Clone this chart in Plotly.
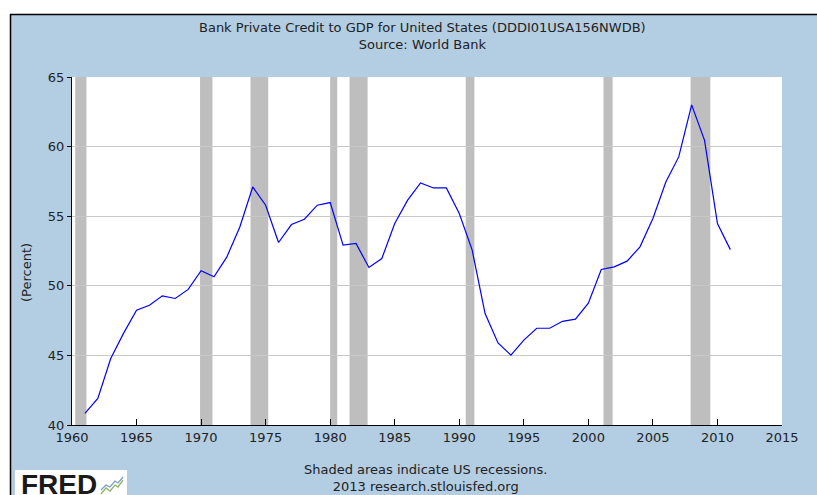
import plotly.graph_objects as go

# ---- data ----
years = list(range(1961, 2012))
credit_pct = [
    40.84, 41.91, 44.78, 46.6, 48.25, 48.6, 49.28, 49.09, 49.74, 51.08,
    50.65, 52.08, 54.23, 57.1, 55.79, 53.11, 54.4, 54.78, 55.79, 55.98,
    52.92, 53.04, 51.32, 51.96, 54.47, 56.15, 57.39, 57.03, 57.03, 55.19,
    52.56, 48.01, 45.9, 45.02, 46.1, 46.95, 46.95, 47.45, 47.6, 48.75,
    51.17, 51.36, 51.77, 52.8, 54.83, 57.46, 59.26, 63.0, 60.45, 54.47,
    52.6,
]
recession_start = [1960.25, 1969.92, 1973.83, 1980.0, 1981.5, 1990.5, 2001.17, 2007.92]
recession_end = [1961.12, 1970.88, 1975.2, 1980.55, 1982.9, 1991.17, 2001.88, 2009.45]
x_ticks = list(range(1960, 2016, 5))
y_ticks = [40, 45, 50, 55, 60, 65]

W, H = 817, 495
# plot area in page pixels
L, R, T, B = 72, 782, 77, 425
BLUE = "#B3CDE3"
FONT = "DejaVu Sans"
TXT = "#222222"


def px(xp):
    return (xp - L) / (R - L)


def py(yp):
    return (B - yp) / (B - T)


def path(points):
    return "M " + " L ".join("%f,%f" % (px(a), py(b)) for a, b in points)


fig = go.Figure()
fig.add_trace(go.Scatter(
    x=years, y=credit_pct, mode="lines",
    line=dict(color="#0000FF", width=1.2),
    showlegend=False, hoverinfo="x+y",
))

shapes = []
for s, e in zip(recession_start, recession_end):
    shapes.append(dict(type="rect", xref="x", yref="paper", x0=s, x1=e, y0=0, y1=1,
                       fillcolor="#BEBEBE", line=dict(width=0), layer="between"))

shapes += [
    # white strips outside the blue panel
    dict(type="rect", xref="paper", yref="paper", x0=px(-2), x1=px(W + 2), y0=py(14), y1=py(-2),
         fillcolor="white", line=dict(width=0), layer="above"),
    dict(type="rect", xref="paper", yref="paper", x0=px(-2), x1=px(10), y0=py(H + 2), y1=py(-2),
         fillcolor="white", line=dict(width=0), layer="above"),
    # black frame lines of the panel
    dict(type="line", xref="paper", yref="paper", x0=px(10), x1=px(W + 2), y0=py(14.5), y1=py(14.5),
         line=dict(color="black", width=1.5), layer="above"),
    dict(type="line", xref="paper", yref="paper", x0=px(10.5), x1=px(10.5), y0=py(14), y1=py(H + 2),
         line=dict(color="black", width=1.5), layer="above"),
    # FRED logo box
    dict(type="rect", xref="paper", yref="paper", x0=px(15), x1=px(127), y0=py(470), y1=py(H + 2),
         fillcolor="white", line=dict(width=0), layer="above"),
    # small logo chart icon
    dict(type="path", xref="paper", yref="paper",
         path=path([(101, 494), (106, 488), (110, 491), (115, 485), (118, 487), (123, 480)]),
         line=dict(color="#8DB86B", width=1.3), layer="above"),
    dict(type="path", xref="paper", yref="paper",
         path=path([(101, 490), (106, 485), (110, 487), (115, 481), (118, 483), (123, 477)]),
         line=dict(color="#7E9CC8", width=1.3), layer="above"),
]

annotations = [
    dict(text="Bank Private Credit to GDP for United States (DDDI01USA156NWDB)<br>Source: World Bank",
         xref="paper", yref="paper", x=px(422), y=py(36.5), xanchor="center", yanchor="middle",
         showarrow=False, font=dict(family=FONT, size=13, color=TXT), align="center"),
    dict(text="(Percent)", xref="paper", yref="paper", x=px(26), y=py(273), textangle=-90,
         xanchor="center", yanchor="middle", showarrow=False,
         font=dict(family=FONT, size=13, color=TXT)),
    dict(text="Shaded areas indicate US recessions.<br>2013 research.stlouisfed.org",
         xref="paper", yref="paper", x=px(425), y=py(477.5), xanchor="center", yanchor="middle",
         showarrow=False, font=dict(family=FONT, size=13, color=TXT), align="center"),
    dict(text="<b>FRED</b>", xref="paper", yref="paper", x=px(19), y=py(484),
         xanchor="left", yanchor="middle", showarrow=False,
         font=dict(family="Liberation Sans", size=28, color="#1A1A1A")),
]

fig.update_layout(
    width=W, height=H,
    margin=dict(l=L, r=W - R, t=T, b=H - B, pad=0),
    paper_bgcolor=BLUE, plot_bgcolor="white",
    shapes=shapes, annotations=annotations,
    font=dict(family=FONT, size=13, color=TXT),
    xaxis=dict(range=[1960, 2015], tickvals=x_ticks, ticktext=[str(v) for v in x_ticks],
               showgrid=False, zeroline=False, showline=True, linecolor="black", linewidth=1,
               ticks="inside", ticklen=6, tickcolor="black",
               tickfont=dict(family=FONT, size=13, color=TXT)),
    yaxis=dict(range=[40, 65], tickvals=y_ticks, showgrid=True, gridcolor="#C8C8C8", gridwidth=1,
               zeroline=False, showline=True, linecolor="black", linewidth=1,
               ticks="outside", ticklen=4, tickcolor="black",
               tickfont=dict(family=FONT, size=13, color=TXT)),
)

fig.write_html(
    "out.html",
    config={"displayModeBar": False},
    post_script="document.body.style.margin='0';document.body.style.overflow='hidden';",
)
